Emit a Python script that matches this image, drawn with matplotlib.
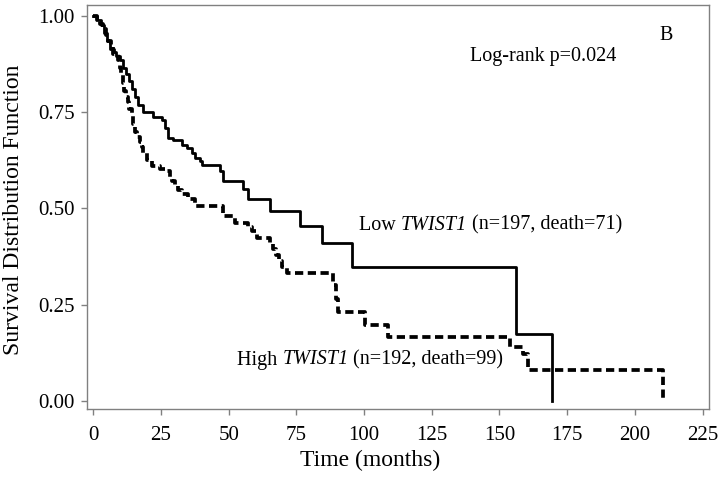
import numpy as np
import matplotlib
matplotlib.use("Agg")
import matplotlib.pyplot as plt

plt.rcParams['font.family'] = ['Liberation Serif', 'DejaVu Serif']

# Kaplan-Meier steps (months, survival)
low_time = [0, 1.5, 3, 4, 5, 6.2, 7.5, 8.5, 9.9, 11, 12, 13, 14.2, 15.4, 16.6, 18.5,
            22.2, 25.3, 26.5, 27.7, 29.5, 32.6, 34.5, 36.3, 37.6, 39.4, 40.2, 46.8,
            48, 55.4, 57.2, 65.3, 76.3, 84.5, 95.4, 156, 169.3]
low_surv = [1.0, 0.99, 0.975, 0.955, 0.935, 0.914, 0.905, 0.895, 0.885, 0.865, 0.848,
            0.83, 0.81, 0.79, 0.768, 0.751, 0.738, 0.729, 0.708, 0.682, 0.678, 0.665,
            0.656, 0.643, 0.63, 0.622, 0.613, 0.596, 0.572, 0.549, 0.523, 0.4925,
            0.454, 0.411, 0.348, 0.174, 0.0]

high_time = [0, 1.5, 2.5, 3.5, 4.5, 5.5, 6.5, 7.4, 9.2, 9.7, 10.3, 10.8, 11.4, 12, 12.7,
             13.3, 14.2, 14.8, 15.4, 16.3, 17.2, 17.8, 18.5, 19.7, 21.6, 24.6, 27.1,
             28.3, 29.2, 30.2, 31.4, 32.6, 35.1, 37.6, 48, 52.3, 57.2, 58.5, 60.3,
             65.3, 66.5, 67.5, 68.5, 69.5, 71.4, 88.6, 89.5, 90.4, 100.3, 108.8,
             153.9, 158.8, 160.6, 210.5]
high_surv = [1.0, 0.99, 0.978, 0.965, 0.95, 0.935, 0.92, 0.90, 0.885, 0.865, 0.845,
             0.825, 0.805, 0.79, 0.775, 0.758, 0.74, 0.72, 0.699, 0.686, 0.673, 0.658,
             0.643, 0.626, 0.609, 0.603, 0.596, 0.578, 0.57, 0.561, 0.548, 0.536,
             0.523, 0.505, 0.48, 0.462, 0.452, 0.441, 0.424, 0.41, 0.395, 0.378,
             0.362, 0.348, 0.331, 0.30, 0.265, 0.232, 0.196, 0.165, 0.139, 0.122,
             0.079, 0.0]

x_ticks = [0, 25, 50, 75, 100, 125, 150, 175, 200, 225]
y_ticks = [0.0, 0.25, 0.5, 0.75, 1.0]

fig = plt.figure(figsize=(7.18, 4.78), dpi=100)
ax = fig.add_axes([0.1212, 0.1437, 0.8663, 0.8458])

ax.step(low_time, low_surv, where='post', color='black', lw=2.0)
ax.step(high_time, high_surv, where='post', color='black', lw=2.7,
        linestyle=(0, (2.2, 1.2)))

ax.set_xlim(-2.33, 227.4)
ax.set_ylim(-0.022, 1.028)
ax.set_xticks(x_ticks)
ax.set_yticks(y_ticks)
ax.set_yticklabels([f'{v:.2f}' for v in y_ticks])

for s in ax.spines.values():
    s.set_color('#808080')
    s.set_linewidth(1.0)
ax.tick_params(direction='out', length=4, width=1, color='#808080',
               labelsize=15, pad=5)
ax.tick_params(axis='x', pad=8)

ax.set_xlabel('Time (months)', fontsize=17)
ax.set_ylabel('Survival Distribution Function', fontsize=17)
ax.xaxis.set_label_coords(0.455, -0.1)
ax.yaxis.set_label_coords(-0.102, 0.493)

H = 478  # figure height in pixels, texts placed in pixel coords from top

ax.text(470, H - 57, 'Log-rank p=0.024', fontsize=14.5, va='center', ha='left',
        transform=None)
ax.text(666, H - 35, 'B', fontsize=14.5, va='center', ha='center', transform=None)

renderer = fig.canvas.get_renderer()

def label_line(x, y, parts):
    # write text pieces side by side, italic where asked
    for txt, style in parts:
        t = ax.text(x, H - y, txt, fontsize=14.5, style=style, va='center',
                    ha='left', transform=None)
        x = t.get_window_extent(renderer).x1

label_line(359, 225, [('Low ', 'normal'), ('TWIST1', 'italic'),
                      (' (n=197, death=71)', 'normal')])
label_line(237, 360, [('High ', 'normal'), ('TWIST1', 'italic'),
                      (' (n=192, death=99)', 'normal')])

fig.savefig('out.png', dpi=100, facecolor='white')
